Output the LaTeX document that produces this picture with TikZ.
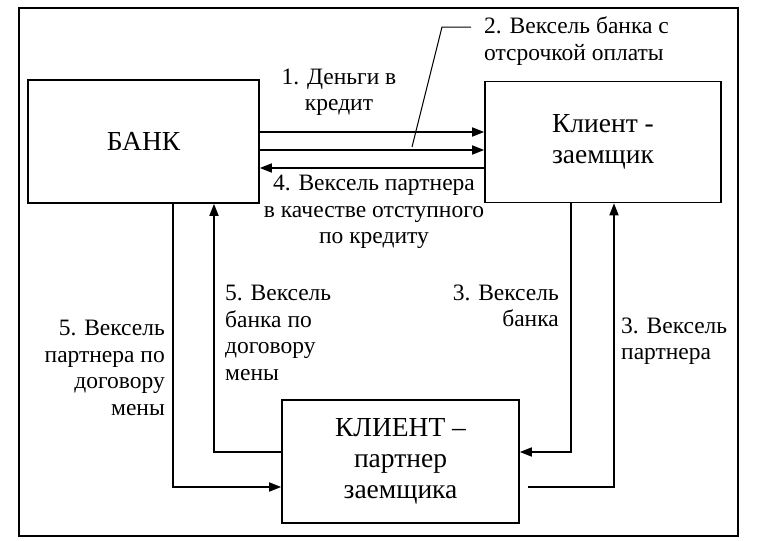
\documentclass[tikz,border=0pt]{standalone}
\usepackage{fontspec}
\setmainfont{Liberation Serif}
\usetikzlibrary{arrows.meta}
\begin{document}
\begin{tikzpicture}[x=1pt,y=-1pt,
  box/.style={draw,line width=1.6pt,inner sep=0pt,align=center,font=\fontsize{27.5}{31}\selectfont},
  lbl/.style={inner sep=0pt,font=\fontsize{23.5}{26.5}\selectfont},
  ln/.style={line width=1.6pt},
  arr/.style={line width=1.6pt,-{Triangle[length=12pt,width=9pt]}}]
\useasboundingbox (0,0) rectangle (758,541);
% outer frame
\draw[line width=1.6pt] (19,8) rectangle (738,536);
% boxes
\node[box,minimum width=231pt,minimum height=123pt] (bank) at (143.5,141.5) {БАНК};
\node[box,minimum width=236pt,minimum height=121pt] (client) at (603,142) {Клиент -\\заемщик};
\node[box,minimum width=237pt,minimum height=123pt] (partner) at (400.5,461.5) {КЛИЕНТ –\\партнер\\заемщика};
% helper coordinates
\coordinate (r1) at (0,132);
\coordinate (r2) at (0,150);
\coordinate (r3) at (0,168);
\coordinate (r4) at (0,452);
\coordinate (r5) at (0,487);
\coordinate (c1) at (173,0);
\coordinate (c2) at (214,0);
\coordinate (c3) at (571,0);
\coordinate (c4) at (614,0);
% horizontal arrows
\draw[arr] (bank.east |- r1) -- (client.west |- r1);
\draw[arr] (bank.east |- r2) -- (client.west |- r2);
\draw[arr] (client.west |- r3) -- (bank.east |- r3);
% leader for label 2
\coordinate (ld1) at (471,27);
\coordinate (ld2) at (442,27);
\coordinate (ld3) at (412,147);
\draw[line width=1pt] (ld1) -- (ld2) -- (ld3);
% vertical loops
\draw[arr] (bank.south -| c1) |- (partner.west |- r5);
\draw[arr] (partner.west |- r4) -| (bank.south -| c2);
\draw[arr] (client.south -| c3) |- (partner.east |- r4);
\coordinate (g1) at (528,487);
\draw[arr] (g1) -| (client.south -| c4);
% labels
\node[lbl,align=center] (l1) at (339,92) {1. Деньги в\\кредит};
\node[lbl,align=left,anchor=west] (l2) at (484,41) {2. Вексель банка с\\отсрочкой оплаты};
\node[lbl,align=center] (l4) at (374,212) {4. Вексель партнера\\в качестве отступного\\по кредиту};
\node[lbl,align=right,anchor=east] (l5a) at (165,368) {5. Вексель\\партнера по\\договору\\мены};
\node[lbl,align=left,anchor=west] (l5b) at (225,333) {5. Вексель\\банка по\\договору\\мены};
\node[lbl,align=right,anchor=east] (l3a) at (559,306) {3. Вексель\\банка};
\node[lbl,align=left,anchor=west] (l3b) at (621,341) {3. Вексель\\партнера};
\end{tikzpicture}
\end{document}
